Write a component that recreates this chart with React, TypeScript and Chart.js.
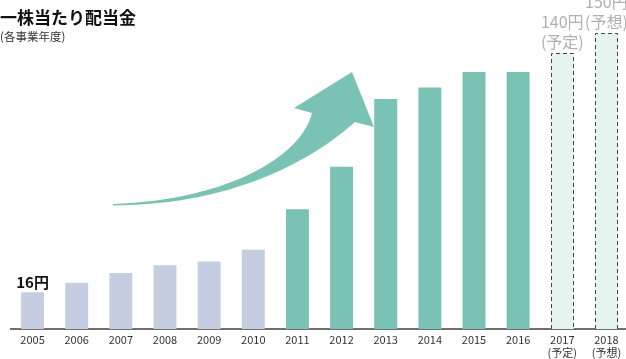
import React, { useEffect, useRef } from "react";
import { Chart, registerables } from "chart.js";

Chart.register(...registerables);

// ---- data ----
const years: (string | string[])[] = [
  "2005", "2006", "2007", "2008", "2009", "2010", "2011",
  "2012", "2013", "2014", "2015", "2016",
  ["2017", "(予定)"], ["2018", "(予想)"],
];
const dividends = [16, 21, 26, 30, 32, 38, 59, 81, 116, 122, 130, 130, 140, 150];
// bar kind: 0 = early, 1 = growth, 2 = forecast
const barKinds = [0, 0, 0, 0, 0, 0, 1, 1, 1, 1, 1, 1, 2, 2];
const valueLabels: { index: number; lines: string[]; kind: number }[] = [
  { index: 0, lines: ["16円"], kind: 0 },
  { index: 12, lines: ["140円", "(予定)"], kind: 2 },
  { index: 13, lines: ["150円", "(予想)"], kind: 2 },
];
const titleText = "一株当たり配当金";
const subtitleText = "(各事業年度)";

// ---- styles ----
const FONT = '"Noto Sans CJK JP", "Noto Sans", sans-serif';
const kindColors = ["#c5cee0", "#7ac2b3", "#e5f4ee"];
const TEAL = "#7ac2b3";

const overlayPlugin = {
  id: "overlay",
  afterDatasetsDraw(chart: any) {
    const ctx = chart.ctx as CanvasRenderingContext2D;
    const meta = chart.getDatasetMeta(0);

    // dashed outlines of forecast bars
    barKinds.forEach((k, i) => {
      if (k !== 2) return;
      const b = meta.data[i];
      const { x, y, width, base } = b.getProps(["x", "y", "width", "base"], true);
      ctx.save();
      ctx.setLineDash([4, 3]);
      ctx.strokeStyle = "#444";
      ctx.lineWidth = 1;
      ctx.beginPath();
      const l = Math.round(x - width / 2) + 0.5;
      const r = Math.round(x + width / 2) - 0.5;
      const t = Math.round(y) + 0.5;
      ctx.moveTo(l, base);
      ctx.lineTo(l, t);
      ctx.lineTo(r, t);
      ctx.lineTo(r, base);
      ctx.stroke();
      ctx.restore();
    });

    // value labels
    valueLabels.forEach((lab) => {
      const b = meta.data[lab.index];
      const { x, y } = b.getProps(["x", "y"], true);
      ctx.save();
      ctx.textAlign = "center";
      if (lab.kind === 0) {
        ctx.font = `bold 15px ${FONT}`;
        ctx.fillStyle = "#111";
        ctx.textBaseline = "alphabetic";
        ctx.fillText(lab.lines[0], x, y - 4);
      } else {
        ctx.font = `16px ${FONT}`;
        ctx.fillStyle = "#b0b0b0";
        ctx.textBaseline = "middle";
        ctx.fillText(lab.lines[0], x, y - 31);
        ctx.fillText(lab.lines[1], x, y - 11);
      }
      ctx.restore();
    });

    // decorative growth arrow
    ctx.save();
    ctx.fillStyle = TEAL;
    ctx.beginPath();
    ctx.moveTo(113, 204);
    ctx.bezierCurveTo(230, 200, 302, 155, 312, 113);
    ctx.lineTo(294, 108);
    ctx.lineTo(352, 72);
    ctx.lineTo(374, 127);
    ctx.lineTo(355, 122);
    ctx.bezierCurveTo(318, 155, 240, 205, 113, 205.5);
    ctx.closePath();
    ctx.fill();
    ctx.restore();

    // title and subtitle
    ctx.save();
    ctx.textAlign = "left";
    ctx.textBaseline = "middle";
    ctx.fillStyle = "#111";
    ctx.font = `bold 17px ${FONT}`;
    ctx.fillText(titleText, 0, 18);
    ctx.fillStyle = "#333";
    ctx.font = `11.5px ${FONT}`;
    ctx.fillText(subtitleText, 0, 37);
    ctx.restore();
  },
};

export default function App() {
  const canvasRef = useRef<HTMLCanvasElement | null>(null);

  useEffect(() => {
    if (!canvasRef.current) return;
    const chart = new Chart(canvasRef.current, {
      type: "bar",
      data: {
        labels: years as any,
        datasets: [
          {
            data: dividends,
            base: -3,
            backgroundColor: barKinds.map((k) => kindColors[k]),
            borderWidth: 0,
            barPercentage: 0.52,
            categoryPercentage: 1,
          } as any,
        ],
      },
      options: {
        animation: false,
        responsive: true,
        maintainAspectRatio: false,
        layout: { padding: { top: 33.4, left: 10.5, right: 1.5, bottom: 0 } },
        plugins: {
          legend: { display: false },
          tooltip: { enabled: false },
          title: { display: false },
        },
        scales: {
          x: {
            grid: { display: false, drawTicks: false },
            border: { display: true, color: "#707070", width: 2 },
            ticks: {
              color: "#333",
              font: { family: FONT, size: 11 },
              padding: 4,
              maxRotation: 0,
              autoSkip: false,
            },
            afterFit: (s: any) => {
              s.height = 30;
            },
          },
          y: {
            display: false,
            min: -3,
            max: 150,
          },
        },
      },
      plugins: [overlayPlugin],
    });
    return () => chart.destroy();
  }, []);

  return (
    <div
      style={{
        position: "absolute",
        left: 0,
        top: 0,
        width: 626,
        height: 359,
        overflow: "hidden",
        background: "#fff",
      }}
    >
      <div style={{ position: "relative", width: 630, height: 359 }}>
        <canvas ref={canvasRef} />
      </div>
    </div>
  );
}
